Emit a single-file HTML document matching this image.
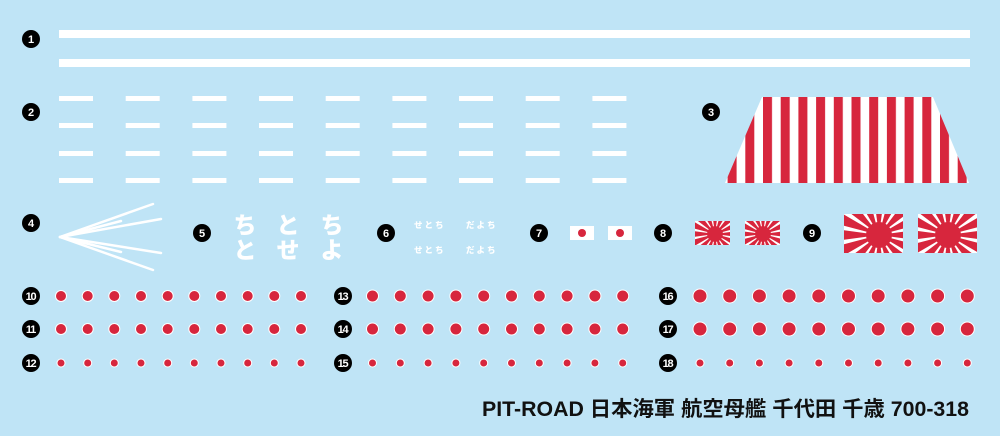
<!DOCTYPE html>
<html><head><meta charset="utf-8"><style>
html,body{margin:0;padding:0;background:#bfe4f6;}
svg{display:block}
.b{font-family:"Liberation Sans",sans-serif;font-weight:bold;fill:#fff;text-anchor:middle;}
.j{font-family:"Liberation Sans","Noto Sans CJK JP",sans-serif;font-weight:900;fill:#fff;text-anchor:middle;}
</style></head><body>
<svg width="1000" height="436" viewBox="0 0 1000 436" xmlns="http://www.w3.org/2000/svg">
<defs>
<g id="sun">
  <g fill="#d7263d">
  <polygon points="0,0 2,-0.27 2,0.27"/>
  <polygon points="0,0 2,-0.27 2,0.27" transform="rotate(22.5)"/>
  <polygon points="0,0 2,-0.27 2,0.27" transform="rotate(45)"/>
  <polygon points="0,0 2,-0.27 2,0.27" transform="rotate(67.5)"/>
  <polygon points="0,0 2,-0.27 2,0.27" transform="rotate(90)"/>
  <polygon points="0,0 2,-0.27 2,0.27" transform="rotate(112.5)"/>
  <polygon points="0,0 2,-0.27 2,0.27" transform="rotate(135)"/>
  <polygon points="0,0 2,-0.27 2,0.27" transform="rotate(157.5)"/>
  <polygon points="0,0 2,-0.27 2,0.27" transform="rotate(180)"/>
  <polygon points="0,0 2,-0.27 2,0.27" transform="rotate(202.5)"/>
  <polygon points="0,0 2,-0.27 2,0.27" transform="rotate(225)"/>
  <polygon points="0,0 2,-0.27 2,0.27" transform="rotate(247.5)"/>
  <polygon points="0,0 2,-0.27 2,0.27" transform="rotate(270)"/>
  <polygon points="0,0 2,-0.27 2,0.27" transform="rotate(292.5)"/>
  <polygon points="0,0 2,-0.27 2,0.27" transform="rotate(315)"/>
  <polygon points="0,0 2,-0.27 2,0.27" transform="rotate(337.5)"/>
  <circle r="0.36"/>
  </g>
</g>
<clipPath id="c8a"><rect x="695" y="221" width="35" height="24"/></clipPath>
<clipPath id="c8b"><rect x="745" y="221" width="35" height="24"/></clipPath>
<clipPath id="c9a"><rect x="844" y="214" width="59" height="39"/></clipPath>
<clipPath id="c9b"><rect x="918" y="214" width="59" height="39"/></clipPath>
<clipPath id="trap"><polygon points="762,97 933,97 969,183 725,183"/></clipPath>
<pattern id="stripes" x="763" y="0" width="17.7" height="10" patternUnits="userSpaceOnUse">
  <rect width="17.7" height="10" fill="#fff"/><rect width="9" height="10" fill="#d7263d"/>
</pattern>
</defs>

<rect x="59" y="30" width="911" height="8" fill="#fff"/>
<rect x="59" y="59" width="911" height="8" fill="#fff"/>

<g fill="#fff">
<g id="dcol">
<rect x="59" y="96" width="34" height="5"/>
<rect x="59" y="123" width="34" height="5"/>
<rect x="59" y="151" width="34" height="5"/>
<rect x="59" y="178" width="34" height="5"/>
</g>
<use href="#dcol" x="66.7"/><use href="#dcol" x="133.4"/><use href="#dcol" x="200"/>
<use href="#dcol" x="266.7"/><use href="#dcol" x="333.4"/><use href="#dcol" x="400"/>
<use href="#dcol" x="466.7"/><use href="#dcol" x="533.4"/>
</g>

<rect x="720" y="97" width="255" height="86" fill="url(#stripes)" clip-path="url(#trap)"/>

<g stroke="#fff" stroke-width="2.5" stroke-linecap="round">
<line x1="60" y1="237" x2="153" y2="204"/>
<line x1="60" y1="237" x2="161" y2="219"/>
<line x1="60" y1="237" x2="161" y2="253"/>
<line x1="60" y1="237" x2="153" y2="270"/>
<line x1="60" y1="237" x2="121" y2="221"/>
<line x1="60" y1="237" x2="121" y2="252"/>
</g>

<g class="j" font-size="23">
<text x="245" y="233">ち</text><text x="288" y="233">と</text><text x="332" y="233">ち</text>
<text x="245" y="258">と</text><text x="288" y="258">せ</text><text x="332" y="258">よ</text>
</g>
<g class="j" font-size="8.5">
<text x="414" y="228" style="text-anchor:start" letter-spacing="2">せとち</text>
<text x="466" y="228" style="text-anchor:start" letter-spacing="2">だよち</text>
<text x="414" y="253" style="text-anchor:start" letter-spacing="2">せとち</text>
<text x="466" y="253" style="text-anchor:start" letter-spacing="2">だよち</text>
</g>

<rect x="570" y="226" width="24" height="14" fill="#fff"/><circle cx="582" cy="233" r="4" fill="#d7263d"/>
<rect x="608" y="226" width="24" height="14" fill="#fff"/><circle cx="620" cy="233" r="4" fill="#d7263d"/>

<g clip-path="url(#c8a)"><rect x="695" y="221" width="35" height="24" fill="#fff"/><use href="#sun" transform="translate(715,234) scale(22)"/></g>
<g clip-path="url(#c8b)"><rect x="745" y="221" width="35" height="24" fill="#fff"/><use href="#sun" transform="translate(763,234) scale(22)"/></g>
<g clip-path="url(#c9a)"><rect x="844" y="214" width="59" height="39" fill="#fff"/><use href="#sun" transform="translate(879,235) scale(36)"/></g>
<g clip-path="url(#c9b)"><rect x="918" y="214" width="59" height="39" fill="#fff"/><use href="#sun" transform="translate(948,235) scale(36)"/></g>

<g fill="#d7263d" stroke="#fff" stroke-width="1">
<g id="r10">
<circle cx="61" cy="296" r="5.5"/><circle cx="87.7" cy="296" r="5.5"/><circle cx="114.3" cy="296" r="5.5"/><circle cx="141" cy="296" r="5.5"/><circle cx="167.7" cy="296" r="5.5"/><circle cx="194.3" cy="296" r="5.5"/><circle cx="221" cy="296" r="5.5"/><circle cx="247.7" cy="296" r="5.5"/><circle cx="274.3" cy="296" r="5.5"/><circle cx="301" cy="296" r="5.5"/>
</g>
<use href="#r10" y="33"/>
<g>
<circle cx="61" cy="363" r="4"/><circle cx="87.7" cy="363" r="4"/><circle cx="114.3" cy="363" r="4"/><circle cx="141" cy="363" r="4"/><circle cx="167.7" cy="363" r="4"/><circle cx="194.3" cy="363" r="4"/><circle cx="221" cy="363" r="4"/><circle cx="247.7" cy="363" r="4"/><circle cx="274.3" cy="363" r="4"/><circle cx="301" cy="363" r="4"/>
</g>
<g id="r13">
<circle cx="372.5" cy="296" r="6"/><circle cx="400.3" cy="296" r="6"/><circle cx="428.1" cy="296" r="6"/><circle cx="455.9" cy="296" r="6"/><circle cx="483.7" cy="296" r="6"/><circle cx="511.5" cy="296" r="6"/><circle cx="539.3" cy="296" r="6"/><circle cx="567.1" cy="296" r="6"/><circle cx="594.9" cy="296" r="6"/><circle cx="622.7" cy="296" r="6"/>
</g>
<use href="#r13" y="33"/>
<g>
<circle cx="372.5" cy="363" r="4"/><circle cx="400.3" cy="363" r="4"/><circle cx="428.1" cy="363" r="4"/><circle cx="455.9" cy="363" r="4"/><circle cx="483.7" cy="363" r="4"/><circle cx="511.5" cy="363" r="4"/><circle cx="539.3" cy="363" r="4"/><circle cx="567.1" cy="363" r="4"/><circle cx="594.9" cy="363" r="4"/><circle cx="622.7" cy="363" r="4"/>
</g>
<g id="r16">
<circle cx="700" cy="296" r="7"/><circle cx="729.7" cy="296" r="7"/><circle cx="759.4" cy="296" r="7"/><circle cx="789.1" cy="296" r="7"/><circle cx="818.8" cy="296" r="7"/><circle cx="848.5" cy="296" r="7"/><circle cx="878.2" cy="296" r="7"/><circle cx="907.9" cy="296" r="7"/><circle cx="937.6" cy="296" r="7"/><circle cx="967.3" cy="296" r="7"/>
</g>
<use href="#r16" y="33"/>
<g>
<circle cx="700" cy="363" r="4"/><circle cx="729.7" cy="363" r="4"/><circle cx="759.4" cy="363" r="4"/><circle cx="789.1" cy="363" r="4"/><circle cx="818.8" cy="363" r="4"/><circle cx="848.5" cy="363" r="4"/><circle cx="878.2" cy="363" r="4"/><circle cx="907.9" cy="363" r="4"/><circle cx="937.6" cy="363" r="4"/><circle cx="967.3" cy="363" r="4"/>
</g>
</g>

<g fill="#000">
<circle cx="31" cy="39" r="9"/><circle cx="31" cy="112" r="9"/><circle cx="711" cy="112" r="9"/>
<circle cx="31" cy="223" r="9"/><circle cx="202" cy="233" r="9"/><circle cx="386" cy="233" r="9"/>
<circle cx="539" cy="233" r="9"/><circle cx="663" cy="233" r="9"/><circle cx="812" cy="233" r="9"/>
<circle cx="31" cy="296" r="9"/><circle cx="31" cy="329" r="9"/><circle cx="31" cy="363" r="9"/>
<circle cx="343" cy="296" r="9"/><circle cx="343" cy="329" r="9"/><circle cx="343" cy="363" r="9"/>
<circle cx="668" cy="296" r="9"/><circle cx="668" cy="329" r="9"/><circle cx="668" cy="363" r="9"/>
</g>
<g class="b" font-size="11">
<text x="31" y="43">1</text><text x="31" y="116">2</text><text x="711" y="116">3</text>
<text x="31" y="227">4</text><text x="202" y="237">5</text><text x="386" y="237">6</text>
<text x="539" y="237">7</text><text x="663" y="237">8</text><text x="812" y="237">9</text>
</g>
<g class="b" font-size="11" letter-spacing="-1.2">
<text x="30.5" y="300">10</text><text x="30.5" y="333">11</text><text x="30.5" y="367">12</text>
<text x="342.5" y="300">13</text><text x="342.5" y="333">14</text><text x="342.5" y="367">15</text>
<text x="667.5" y="300">16</text><text x="667.5" y="333">17</text><text x="667.5" y="367">18</text>
</g>

<text x="969" y="416" font-family="'Liberation Sans','Noto Sans CJK JP',sans-serif" font-weight="bold" font-size="21" fill="#111" text-anchor="end" textLength="487" lengthAdjust="spacingAndGlyphs">PIT-ROAD 日本海軍 航空母艦 千代田 千歳 700-318</text>
</svg>
</body></html>
